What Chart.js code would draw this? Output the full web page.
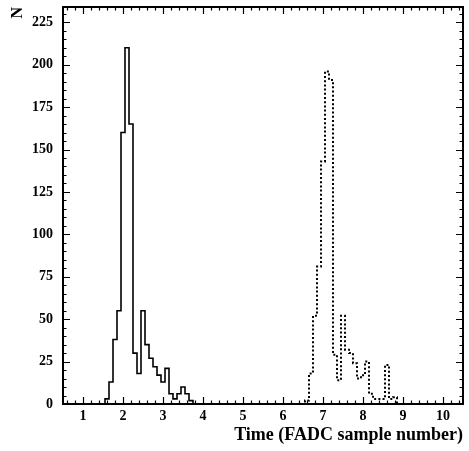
<!DOCTYPE html>
<html>
<head>
<meta charset="utf-8">
<script src="https://cdn.jsdelivr.net/npm/chart.js@4.4.1/dist/chart.umd.min.js"></script>
<style>
  body { margin: 0; background: #fff; }
  canvas { display: block; }
</style>
</head>
<body>
<canvas id="myChart" width="469" height="451"></canvas>
<script>
// lower edges of the 0.1 wide bins, and the counts in them
const solidBins = [1.55, 1.65, 1.75, 1.85, 1.95, 2.05, 2.15, 2.25, 2.35, 2.45, 2.55,
  2.65, 2.75, 2.85, 2.95, 3.05, 3.15, 3.25, 3.35, 3.45, 3.55, 3.65];
const solidCounts = [3, 13, 38, 55, 160, 210, 165, 30, 18, 55, 35,
  27, 22, 17, 13, 21, 6, 3, 6, 10, 6, 2];

const dottedBins = [6.55, 6.65, 6.75, 6.85, 6.95, 7.05, 7.15, 7.25, 7.35, 7.45, 7.55,
  7.65, 7.75, 7.85, 7.95, 8.05, 8.15, 8.25, 8.35, 8.45, 8.55, 8.65, 8.75];
const dottedCounts = [2, 18, 52, 81, 143, 196, 191, 29, 14, 52, 32,
  30, 24, 15, 17, 25, 6, 3, 3, 3, 23, 3, 4];

const binWidth = 0.1;
const xTicks = [1, 2, 3, 4, 5, 6, 7, 8, 9, 10];
const yTicks = [0, 25, 50, 75, 100, 125, 150, 175, 200, 225];

const xTitle = "Time (FADC sample number)";
const yTitle = "N";

// turn bins into points for a stepped line (histogram outline)
function histPoints(bins, counts) {
  const pts = [{ x: 0.5, y: 0 }, { x: bins[0], y: 0 }];
  bins.forEach((b, i) => pts.push({ x: b, y: counts[i] }));
  pts.push({ x: bins[bins.length - 1] + binWidth, y: 0 });
  pts.push({ x: 10.5, y: 0 });
  return pts;
}

// frame + inward ticks on all four sides
const framePlugin = {
  id: "frame",
  afterDatasetsDraw(chart) {
    const { ctx, chartArea: a, scales: { x, y } } = chart;
    ctx.save();
    ctx.strokeStyle = "#000";
    ctx.lineWidth = 1.2;
    ctx.beginPath();
    for (let v = 0.6; v < 10.45; v += 0.2) {
      const px = Math.round(x.getPixelForValue(v)) + 0.5;
      const isMajor = Math.abs(v - Math.round(v)) < 0.01;
      const len = isMajor ? 7 : 3.5;
      ctx.moveTo(px, a.bottom); ctx.lineTo(px, a.bottom - len);
      ctx.moveTo(px, a.top); ctx.lineTo(px, a.top + len);
    }
    for (let v = 5; v < 234; v += 5) {
      const py = Math.round(y.getPixelForValue(v)) + 0.5;
      const len = v % 25 === 0 ? 7 : 3.5;
      ctx.moveTo(a.left, py); ctx.lineTo(a.left + len, py);
      ctx.moveTo(a.right, py); ctx.lineTo(a.right - len, py);
    }
    ctx.stroke();
    ctx.lineWidth = 2;
    ctx.strokeRect(a.left, a.top, a.right - a.left, a.bottom - a.top);
    ctx.restore();
  }
};

const ctx = document.getElementById("myChart").getContext("2d");
const myChart = new Chart(ctx, {
  type: "line",
  data: {
    datasets: [
      {
        label: "solid",
        data: histPoints(solidBins, solidCounts),
        borderColor: "#000",
        borderWidth: 1.6,
        stepped: true,
        pointRadius: 0,
        fill: false
      },
      {
        label: "dotted",
        data: histPoints(dottedBins, dottedCounts),
        borderColor: "#000",
        borderWidth: 2,
        borderDash: [2, 2.2],
        stepped: true,
        pointRadius: 0,
        fill: false
      }
    ]
  },
  options: {
    responsive: false,
    animation: false,
    layout: { padding: { top: 7, right: 6, left: 0, bottom: 0 } },
    plugins: { legend: { display: false }, tooltip: { enabled: false } },
    scales: {
      x: {
        type: "linear",
        min: 0.5,
        max: 10.5,
        grid: { display: false, drawTicks: false },
        border: { display: false },
        afterBuildTicks: (s) => { s.ticks = xTicks.map(v => ({ value: v })); },
        afterFit: (s) => { s.height = 47; s.paddingLeft = 0; s.paddingRight = 0; },
        ticks: {
          color: "#000",
          padding: 4,
          maxRotation: 0,
          font: { family: "Liberation Serif", weight: "bold", size: 14 }
        },
        title: {
          display: true,
          text: xTitle,
          align: "end",
          color: "#000",
          padding: { top: 0, bottom: 5 },
          font: { family: "Liberation Serif", weight: "bold", size: 18 }
        }
      },
      y: {
        min: 0,
        max: 234,
        grid: { display: false, drawTicks: false },
        border: { display: false },
        afterBuildTicks: (s) => { s.ticks = yTicks.map(v => ({ value: v })); },
        afterFit: (s) => { s.width = 63; s.paddingTop = 0; s.paddingBottom = 0; },
        ticks: {
          color: "#000",
          padding: 10,
          font: { family: "Liberation Serif", weight: "bold", size: 14 }
        },
        title: {
          display: true,
          text: yTitle,
          align: "end",
          color: "#000",
          padding: { top: 8, bottom: 0 },
          font: { family: "Liberation Serif", weight: "bold", size: 16 }
        }
      }
    }
  },
  plugins: [framePlugin]
});
</script>
</body>
</html>
